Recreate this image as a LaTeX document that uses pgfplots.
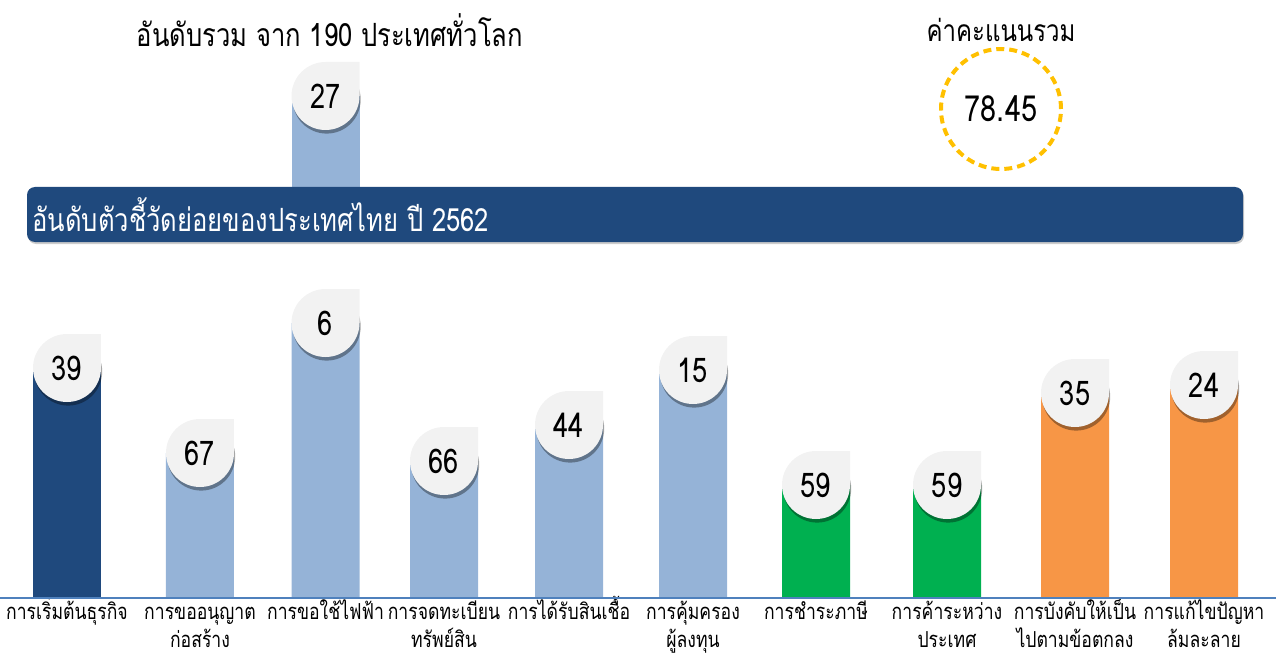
\documentclass[border=0pt]{standalone}
\usepackage{pgfplots}
\pgfplotsset{compat=1.18}
\usepackage{fontspec}
\setmainfont[Script=Thai, FakeStretch=0.8]{Loma}

\definecolor{darkbar}{RGB}{31,73,125}
\definecolor{lightbar}{RGB}{149,179,215}
\definecolor{greenbar}{RGB}{0,176,80}
\definecolor{orangebar}{RGB}{247,150,70}
\definecolor{bubble}{RGB}{242,242,242}
\definecolor{gold}{RGB}{255,192,0}
\definecolor{axisblue}{RGB}{79,129,189}

% two-line tick label, baseline on the first line
\newcommand{\two}[2]{\begin{tabular}[t]{@{}c@{}}#1\\#2\end{tabular}}

% value bubble: circle with a square top-right corner and a soft shadow
\pgfdeclareplotmark{drop}{%
  \begin{pgfscope}
    \pgfsetfillcolor{black}
    \pgfsetfillopacity{0.35}
    \pgfpathcircle{\pgfqpoint{0.6pt}{-1.8pt}}{\pgfplotmarksize}
    \pgfusepathqfill
  \end{pgfscope}
  \pgfpathmoveto{\pgfqpoint{0pt}{\pgfplotmarksize}}%
  \pgfpatharc{90}{360}{\pgfplotmarksize}%
  \pgfpathlineto{\pgfqpoint{\pgfplotmarksize}{\pgfplotmarksize}}%
  \pgfpathclose
  \pgfusepathqfill
}

\pgfplotsset{
  bar/.style={ybar, bar width=34pt, bar shift=0pt, draw=none, fill=#1},
  bubbles/.style={only marks, mark=drop, mark size=17pt,
    mark options={fill=bubble, draw=none},
    point meta=explicit,
    nodes near coords={\pgfmathprintnumber[assume math mode=true]{\pgfplotspointmeta}},
    nodes near coords style={anchor=center, font=\fontsize{17}{19}\selectfont, text=black}},
}

\begin{document}
\begin{tikzpicture}
\useasboundingbox (0,-31pt) rectangle (638pt,299pt);

% indicator ranks (bar height in px above the baseline, rank as meta)
\begin{axis}[
  at={(0,0)}, anchor=south west,
  width=638pt, height=299pt, scale only axis,
  xmin=0, xmax=1276, ymin=0, ymax=598,
  axis line style={draw=none}, tick style={draw=none},
  ytick=\empty,
  xtick={67,200,325.5,444,569,693,816,947,1075,1204},
  xticklabels={{การเริ่มต้นธุรกิจ},{\two{การขออนุญาต}{ก่อสร้าง}},{การขอใช้ไฟฟ้า},{\two{การจดทะเบียน}{ทรัพย์สิน}},{การได้รับสินเชื้อ},{\two{การคุ้มครอง}{ผู้ลงทุน}},{การชำระภาษี},{\two{การค้าระหว่าง}{ประเทศ}},{\two{การบังคับให้เป็น}{ไปตามข้อตกลง}},{\two{การแก้ไขปัญหา}{ล้มละลาย}}},
  xticklabel style={anchor=base, font=\fontsize{11}{14}\selectfont, inner sep=0pt, yshift=-10.5pt},
  clip=false,
]
\addplot[bar=darkbar] coordinates {(67,230)};
\addplot[bar=lightbar] coordinates {(200,145) (325.5,275) (444,137) (569,173) (693,228)};
\addplot[bar=greenbar] coordinates {(816,113) (947,113)};
\addplot[bar=orangebar] coordinates {(1075,205) (1204,213)};
\addplot[bubbles] coordinates {
  (67,230) [39] (200,145) [67] (325.5,275) [6] (444,137) [66] (569,173) [44]
  (693,228) [15] (816,113) [59] (947,113) [59] (1075,205) [35] (1204,213) [24]
};
\draw[axisblue, line width=0.8pt] (axis cs:0,0) -- (axis cs:1276,0);
\end{axis}

% overall rank among 190 countries
\begin{axis}[
  at={(0,205.5pt)}, anchor=south west,
  width=638pt, height=93.5pt, scale only axis,
  xmin=0, xmax=1276, ymin=411, ymax=598,
  hide axis,
]
\addplot[bar=lightbar] coordinates {(325.5,502)};
\addplot[bubbles] coordinates {(325.5,502) [27]};
\end{axis}

% banner
\fill[black, opacity=0.2, rounded corners=4pt] (14pt,177pt) rectangle (622pt,204.5pt);
\fill[darkbar, rounded corners=4pt] (13.5pt,178pt) rectangle (621.5pt,205.5pt);
\node[anchor=west, text=white, font=\fontsize{16}{18}\selectfont, inner sep=0pt]
  at (16pt,191.5pt) {อันดับตัวชี้วัดย่อยของประเทศไทย ปี 2562};

% titles
\node[font=\fontsize{16}{18}\selectfont] at (165pt,284pt) {อันดับรวม จาก 190 ประเทศทั่วโลก};
\node[font=\fontsize{15}{18}\selectfont] at (500.5pt,284pt) {ค่าคะแนนรวม};
\draw[gold, line width=2pt, dash pattern=on 4pt off 2.5pt] (500.5pt,244.5pt) circle (30pt);
\node[font=\fontsize{18}{20}\selectfont] at (500.5pt,244.5pt) {78.45};
\end{tikzpicture}
\end{document}
